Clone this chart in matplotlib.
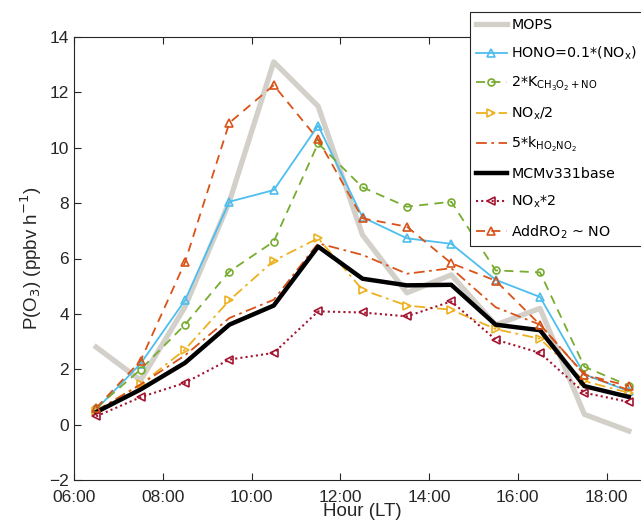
import numpy as np
import matplotlib
matplotlib.use("Agg")
import matplotlib.pyplot as plt

# hours (LT), half past each hour
hours = [6.5, 7.5, 8.5, 9.5, 10.5, 11.5, 12.5, 13.5, 14.5, 15.5, 16.5, 17.5, 18.5]

mops = [2.8, 1.6, 4.25, 8.05, 13.1, 11.5, 6.85, 4.76, 5.41, 3.6, 4.2, 0.37, -0.23]
hono = [0.55, 2.2, 4.49, 8.05, 8.47, 10.8, 7.49, 6.73, 6.53, 5.23, 4.61, 1.81, 1.21]
k_ch3o2 = [0.6, 1.99, 3.61, 5.53, 6.61, 10.16, 8.57, 7.87, 8.05, 5.57, 5.5, 2.09, 1.41]
nox_half = [0.5, 1.45, 2.71, 4.49, 5.92, 6.73, 4.87, 4.3, 4.15, 3.45, 3.1, 1.57, 1.15]
k_ho2no2 = [0.5, 1.45, 2.5, 3.85, 4.51, 6.55, 6.13, 5.45, 5.65, 4.24, 3.61, 1.8, 1.25]
mcm_base = [0.45, 1.27, 2.23, 3.61, 4.3, 6.43, 5.27, 5.03, 5.05, 3.61, 3.41, 1.39, 1.0]
nox_x2 = [0.3, 0.99, 1.51, 2.35, 2.59, 4.09, 4.05, 3.91, 4.45, 3.07, 2.59, 1.15, 0.82]
add_ro2 = [0.6, 2.31, 5.86, 10.9, 12.26, 10.3, 7.45, 7.15, 5.83, 5.2, 3.61, 1.81, 1.39]

xticks = [6, 8, 10, 12, 14, 16, 18]
xticklabels = ["06:00", "08:00", "10:00", "12:00", "14:00", "16:00", "18:00"]
yticks = [-2, 0, 2, 4, 6, 8, 10, 12, 14]

plt.rcParams['font.family'] = ['Liberation Sans', 'DejaVu Sans']
plt.rcParams['mathtext.fontset'] = 'dejavusans'

fig = plt.figure(figsize=(6.41, 5.25), dpi=100)
ax = fig.add_axes([74 / 641, 45 / 525, 577 / 641, 443 / 525])

ms = 5.5
ax.plot(hours, mops, color='#D3CFC9', lw=3.8, label='MOPS', zorder=1)
ax.plot(hours, hono, color='#4DBEEE', lw=1.3, marker='^', ms=ms, mfc='none',
        mew=1.2, label=r'HONO=0.1*(NO$_\mathrm{x}$)')
ax.plot(hours, k_ch3o2, color='#77AC30', lw=1.3, ls=(0, (5, 3.5)), marker='o', ms=ms - 0.5,
        mfc='none', mew=1.2, label=r'2*K$_\mathrm{CH_3O_2+NO}$')
ax.plot(hours, nox_half, color='#EDB120', lw=1.3, ls=(0, (6, 2.5, 1.5, 2.5)), marker='>',
        ms=ms, mfc='none', mew=1.2, label=r'NO$_\mathrm{x}$/2')
ax.plot(hours, k_ho2no2, color='#D95319', lw=1.3, ls=(0, (6, 2.5, 1.5, 2.5)),
        label=r'5*k$_\mathrm{HO_2NO_2}$')
ax.plot(hours, mcm_base, color='black', lw=3.2, label='MCMv331base')
ax.plot(hours, nox_x2, color='#A2142F', lw=1.5, ls=(0, (1, 1.5)), marker='<', ms=ms,
        mfc='none', mew=1.2, label=r'NO$_\mathrm{x}$*2')
ax.plot(hours, add_ro2, color='#D95319', lw=1.3, ls=(0, (5, 3.5)), marker='^', ms=ms,
        mfc='none', mew=1.2, label=r'AddRO$_2$ ~ NO')

ax.set_xlim(6, 19)
ax.set_ylim(-2, 14)
ax.set_xticks(xticks)
ax.set_xticklabels(xticklabels)
ax.set_yticks(yticks)
ax.tick_params(direction='in', top=True, right=True, labelsize=12.5, color='#262626',
               labelcolor='#262626', length=5, width=0.8)
ax.tick_params(axis='x', pad=7)
for s in ax.spines.values():
    s.set_color('#262626')
    s.set_linewidth(0.8)

ax.set_xlabel('Hour (LT)', fontsize=13.5, color='#262626', labelpad=-1)
ax.set_ylabel(r'P(O$_3$) (ppbv h$^{-1}$)', fontsize=13.5, color='#262626', labelpad=4)

leg = fig.legend(loc='upper left', bbox_to_anchor=(470 / 641, 1 - 12 / 525),
                 fancybox=False, edgecolor='#262626', framealpha=1,
                 prop={'family': 'DejaVu Sans', 'size': 10.3}, handlelength=2.2,
                 handletextpad=0.3, labelspacing=0.9, borderpad=0.4,
                 borderaxespad=0)
leg.get_frame().set_linewidth(0.8)

fig.savefig('out.png', dpi=100)
